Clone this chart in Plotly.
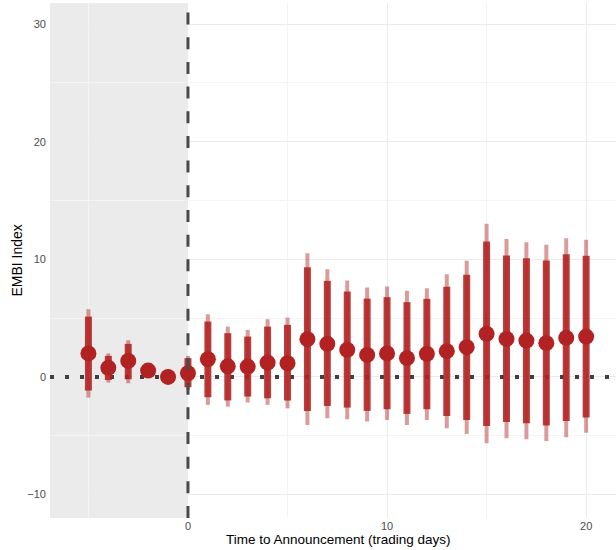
import plotly.graph_objects as go

days = [-5, -4, -3, -2, -1, 0, 1, 2, 3, 4, 5, 6, 7, 8, 9, 10, 11, 12, 13, 14, 15, 16, 17, 18, 19, 20]
estimate = [2.0, 0.77, 1.36, 0.54, 0.0, 0.31, 1.5, 0.9, 0.88, 1.22, 1.16, 3.21, 2.81, 2.3, 1.87, 2.0,
            1.59, 1.96, 2.19, 2.53, 3.66, 3.23, 3.09, 2.87, 3.32, 3.43]
ci90_lo = [-1.16, -0.26, -0.2, 0.2, 0.0, -0.88, -1.73, -2.0, -1.67, -1.82, -2.01, -2.89, -2.47, -2.61, -2.89, -2.75,
           -3.15, -2.75, -3.32, -3.66, -4.17, -3.83, -3.94, -4.14, -3.74, -3.46]
ci90_hi = [5.13, 1.79, 2.81, 0.9, 0.0, 1.59, 4.71, 3.72, 3.43, 4.28, 4.43, 9.33, 8.17, 7.26, 6.66, 6.78,
           6.36, 6.64, 7.66, 8.68, 11.52, 10.32, 10.1, 9.9, 10.44, 10.3]
ci95_lo = [-1.76, -0.48, -0.54, 0.1, 0.0, -1.1, -2.38, -2.53, -2.18, -2.38, -2.67, -4.09, -3.52, -3.6, -3.8, -3.66,
           -4.09, -3.66, -4.37, -4.85, -5.65, -5.22, -5.3, -5.45, -5.13, -4.74]
ci95_hi = [5.76, 2.0, 3.12, 1.0, 0.0, 1.79, 5.33, 4.28, 4.0, 4.91, 5.05, 10.52, 9.16, 8.2, 7.6, 7.69,
           7.32, 7.55, 8.74, 9.87, 13.02, 11.72, 11.46, 11.23, 11.8, 11.66]

x_ticks = [0, 10, 20]
y_ticks = [-10, 0, 10, 20, 30]
x_title = "Time to Announcement (trading days)"
y_title = "EMBI Index"


def segs(xs, lo, hi):
    sx, sy = [], []
    for x, a, b in zip(xs, lo, hi):
        sx += [x, x, None]
        sy += [a, b, None]
    return sx, sy


fig = go.Figure()

# horizontal dotted line at zero (as a trace so it sits under the bars)
fig.add_trace(go.Scatter(x=[-6.93, 21.5], y=[0, 0], mode="lines",
                         line=dict(color="#404040", width=4, dash="4px,11px"),
                         hoverinfo="skip", showlegend=False))
x95, y95 = segs(days, ci95_lo, ci95_hi)
fig.add_trace(go.Scatter(x=x95, y=y95, mode="lines",
                         line=dict(color="rgba(178,34,34,0.45)", width=4),
                         hoverinfo="skip", showlegend=False))
x90, y90 = segs(days, ci90_lo, ci90_hi)
fig.add_trace(go.Scatter(x=x90, y=y90, mode="lines",
                         line=dict(color="rgba(178,34,34,0.88)", width=7),
                         hoverinfo="skip", showlegend=False))
fig.add_trace(go.Scatter(x=days, y=estimate, mode="markers",
                         marker=dict(color="#b22222", size=16, line=dict(width=0)),
                         showlegend=False))

# shaded pre-announcement region
fig.add_shape(type="rect", xref="x", yref="paper", x0=-10, x1=0, y0=0, y1=1,
              fillcolor="#ebebeb", line=dict(width=0), layer="between")
# vertical dashed line at announcement
fig.add_shape(type="line", xref="x", yref="paper", x0=0, x1=0, y0=0, y1=1,
              line=dict(color="#4a4a4a", width=3, dash="12px,12.67px"), layer="above")

fig.update_layout(
    width=616, height=550,
    margin=dict(l=50, r=0, t=3, b=32),
    paper_bgcolor="white", plot_bgcolor="white",
    font=dict(family="Liberation Sans, Arial, sans-serif"),
    xaxis=dict(range=[-6.93, 21.5], tickvals=x_ticks, showgrid=True, gridcolor="#ebebeb", gridwidth=1,
               zeroline=False, showline=False, ticks="", automargin=False,
               tickfont=dict(size=11, color="#4d4d4d"),
               minor=dict(dtick=5, tick0=0, showgrid=True, gridcolor="#f4f4f4", gridwidth=0.6)),
    yaxis=dict(range=[-12.0, 31.8], tickvals=y_ticks, showgrid=True, gridcolor="#ebebeb", gridwidth=1,
               zeroline=False, showline=False, ticks="", automargin=False, ticklabelstandoff=3,
               tickfont=dict(size=11, color="#4d4d4d"),
               minor=dict(dtick=5, tick0=0, showgrid=True, gridcolor="#f4f4f4", gridwidth=0.6)),
    annotations=[
        dict(text=x_title, xref="paper", yref="paper", x=0.509, y=0, yshift=-21,
             xanchor="center", yanchor="middle", showarrow=False, font=dict(size=13.5, color="black")),
        dict(text=y_title, xref="paper", yref="paper", x=0, xshift=-34, y=0.5,
             xanchor="center", yanchor="middle", textangle=-90, showarrow=False,
             font=dict(size=14, color="black")),
    ],
)

fig.write_html("out.html", config={"displayModeBar": False},
               post_script="document.body.style.margin='0';document.body.style.overflow='hidden';")
